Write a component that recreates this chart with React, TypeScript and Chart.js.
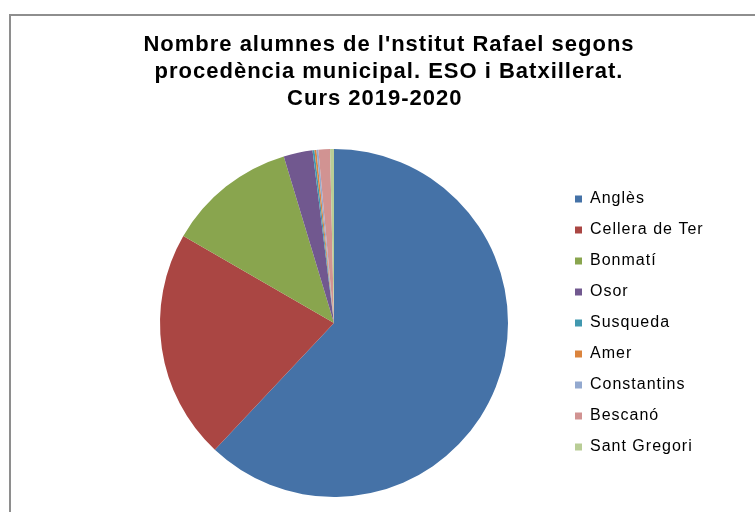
import React, { useEffect, useRef } from "react";
import { Chart, registerables } from "chart.js";

Chart.register(...registerables);

const TITLE_LINES = [
  "Nombre alumnes de l'nstitut Rafael segons",
  "procedència municipal. ESO i Batxillerat.",
  "Curs 2019-2020    ",
];

const MUNICIPIS = [
  "Anglès",
  "Cellera de Ter",
  "Bonmatí",
  "Osor",
  "Susqueda",
  "Amer",
  "Constantins",
  "Bescanó",
  "Sant Gregori",
];

const ALUMNES = [346, 119, 67, 15, 1, 1, 1, 6, 2];

const COLORS = [
  "#4572A7",
  "#AA4643",
  "#89A54E",
  "#71588F",
  "#4198AF",
  "#DB843D",
  "#93A9CF",
  "#D19392",
  "#B9CD96",
];

const FONT = "'Liberation Sans', Arial, Helvetica, sans-serif";

const spacingPlugin = {
  id: "letterSpacingPlugin",
  beforeInit(chart: any) {
    (chart.ctx as any).letterSpacing = "1px";
  },
  beforeUpdate(chart: any) {
    (chart.ctx as any).letterSpacing = "1px";
  },
  afterLayout(chart: any) {
    // let the legend labels run past the narrow legend box without being clipped
    const lg = chart.legend;
    if (lg) {
      lg.width = 200;
      lg.right = lg.left + 200;
    }
  },
  beforeDraw(chart: any) {
    (chart.ctx as any).letterSpacing = "1px";
  },
};

export default function App() {
  const canvasRef = useRef<HTMLCanvasElement | null>(null);

  useEffect(() => {
    const canvas = canvasRef.current;
    if (!canvas) return;
    const chart = new Chart(canvas, {
      type: "pie",
      data: {
        labels: MUNICIPIS,
        datasets: [
          {
            data: ALUMNES,
            backgroundColor: COLORS,
            borderWidth: 0,
          },
        ],
      },
      plugins: [spacingPlugin],
      options: {
        animation: false,
        responsive: false,
        devicePixelRatio: 1,
        layout: {
          padding: { left: 108, right: 108, top: 0, bottom: 15 },
        },
        plugins: {
          title: {
            display: true,
            text: TITLE_LINES,
            color: "#000",
            font: { family: FONT, size: 22, weight: "bold", lineHeight: 27 / 22 },
            padding: { top: 31.5, bottom: 36.5 },
          },
          legend: {
            display: true,
            position: "right",
            fullSize: false,
            maxWidth: 110,
            labels: {
              color: "#000",
              font: { family: FONT, size: 16 },
              boxWidth: 7,
              boxHeight: 7,
              padding: 15,
            },
          },
          tooltip: { enabled: false },
        },
      },
    });
    return () => chart.destroy();
  }, []);

  return (
    <div
      style={{
        position: "fixed",
        left: 0,
        top: 0,
        width: 755,
        height: 512,
        overflow: "hidden",
        background: "#fff",
      }}
    >
      <div
        style={{
          position: "absolute",
          left: 9,
          top: 14,
          width: 900,
          height: 700,
          border: "2px solid #8e8e8e",
          boxSizing: "border-box",
        }}
      />
      <canvas
        ref={canvasRef}
        width={778}
        height={512}
        style={{ position: "absolute", left: 0, top: 0, width: 778, height: 512 }}
      />
    </div>
  );
}
